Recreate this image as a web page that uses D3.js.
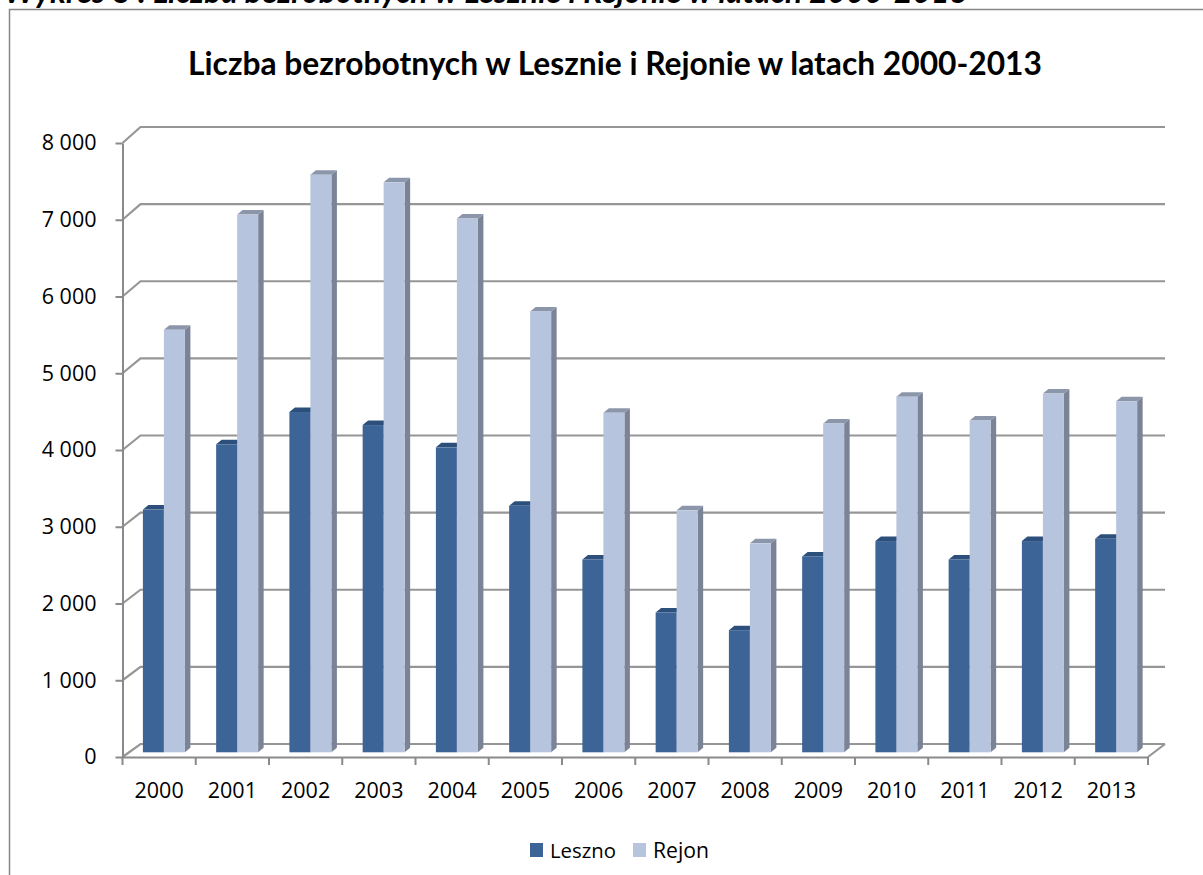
<!DOCTYPE html>
<html><head><meta charset="utf-8">
<script src="https://cdn.jsdelivr.net/npm/d3@7"></script>
<style>body{margin:0;background:#fff}svg{display:block}</style>
</head><body>
<svg id="c" width="1203" height="875"></svg>
<script>
const years = ["2000","2001","2002","2003","2004","2005","2006","2007","2008","2009","2010","2011","2012","2013"];
const leszno = [3160,4010,4430,4260,3970,3210,2510,1820,1590,2550,2750,2510,2750,2780];
const rejon  = [5500,7000,7520,7420,6950,5740,4420,3150,2720,4280,4630,4320,4670,4570];
const seriesNames = ["Leszno","Rejon"];
const yTicks = [0,1000,2000,3000,4000,5000,6000,7000,8000];
const titleText = "Liczba bezrobotnych w Lesznie i Rejonie w latach 2000-2013";
const captionText = "Wykres 8 : Liczba bezrobotnych w Lesznie i Rejonie w latach 2000-2013";

const svg = d3.select("#c");
const colors = {
  Leszno:{front:"#3c6496", side:"#2b4a72", top:"#2d4f7c"},
  Rejon:{front:"#b7c4de", side:"#7b8396", top:"#8c96ab"}
};
const gridCol = "#969696", axisCol = "#8a8a8a";

// scales
const x = d3.scaleBand().domain(years).range([122.5,1148]).padding(0);
const yFront = d3.scaleLinear().domain([0,8000]).range([757,143]);
const yBack  = d3.scaleLinear().domain([0,8000]).range([744,127]);
const yBar   = d3.scaleLinear().domain([0,8000]).range([752.3,137.8]);
const depthX = 18;
const inner = d3.scaleBand().domain(seriesNames).range([20.4, 62.4]).padding(0);
const bdx = 5.5, bdy = 4.5;

function fitText(sel, target){
  const n = sel.node();
  const fs = parseFloat(sel.attr("font-size"));
  const w = n.getComputedTextLength();
  sel.attr("font-size", (fs*target/w).toFixed(2));
}

// caption (cut off at top edge, as in the source image)
const cap = svg.append("text").attr("x",4).attr("y",3)
  .attr("font-family","Lato, 'Open Sans', sans-serif").attr("font-weight","bold").attr("font-style","italic")
  .attr("font-size",24).attr("fill","#000").text(captionText);
fitText(cap, 964);

// frame
svg.append("rect").attr("x",9.5).attr("y",9.5).attr("width",1250).attr("height",1000)
  .attr("fill","none").attr("stroke","#878787").attr("stroke-width",1.5);

// title
const title = svg.append("text").attr("x",615).attr("y",75).attr("text-anchor","middle")
  .attr("font-family","Lato, 'Open Sans', sans-serif").attr("font-weight","bold")
  .attr("font-size",28).attr("fill","#000").text(titleText);
fitText(title, 854);

const x0 = x.range()[0], x1 = x.range()[1];

// side-wall diagonals + back gridlines
const g = svg.append("g");
g.selectAll("path.grid").data(yTicks).join("path").attr("class","grid")
  .attr("d", d => `M${x0},${yFront(d)}L${x0+depthX},${yBack(d)}L${1165},${yBack(d)}`)
  .attr("fill","none").attr("stroke", gridCol).attr("stroke-width",2.2);
g.append("path").attr("d",`M${x1},${yFront(0)}L${1165},${yBack(0)}`)
  .attr("fill","none").attr("stroke",gridCol).attr("stroke-width",2.2);

// y axis
const fmt = d3.formatLocale({decimal:",",thousands:" ",grouping:[3],currency:["",""]}).format(",d");
const yAxis = svg.append("g").attr("transform",`translate(${x0},0)`)
  .call(d3.axisLeft(yFront).tickValues(yTicks).tickFormat(fmt).tickSize(7).tickSizeOuter(0).tickPadding(19));
yAxis.select(".domain").attr("stroke",axisCol).attr("stroke-width",2);
yAxis.selectAll(".tick line").attr("stroke",axisCol).attr("stroke-width",2);
yAxis.selectAll(".tick text").attr("font-family","'Open Sans', sans-serif").attr("font-size",21.5).attr("fill","#000");

// x axis
const xAxis = svg.append("g").attr("transform",`translate(0,${yFront(0)})`)
  .call(d3.axisBottom(x).tickSize(0).tickSizeOuter(0).tickPadding(0));
xAxis.select(".domain").attr("stroke",axisCol).attr("stroke-width",2);
xAxis.selectAll(".tick text").attr("font-family","'Open Sans', sans-serif").attr("font-size",21.5)
  .attr("fill","#000").attr("dy",null).attr("y",41);
const bounds = years.map(d => x(d)).concat([x1]);
xAxis.selectAll("line.bt").data(bounds).join("line").attr("class","bt")
  .attr("x1",d=>d).attr("x2",d=>d).attr("y1",0).attr("y2",8)
  .attr("stroke",axisCol).attr("stroke-width",2);

// bars
const rows = years.map((yr,i)=>({year:yr, Leszno:leszno[i], Rejon:rejon[i]}));
const bars = svg.append("g");
rows.forEach(r=>{
  seriesNames.forEach(s=>{
    const bx0 = x(r.year)+inner(s), bx1 = bx0+inner.bandwidth();
    const yb = yBar(0), yt = yBar(r[s]);
    const c = colors[s];
    const gb = bars.append("g");
    gb.append("path").attr("d",`M${bx1},${yb}L${bx1+bdx},${yb-bdy}L${bx1+bdx},${yt-bdy}L${bx1},${yt}Z`).attr("fill",c.side);
    gb.append("path").attr("d",`M${bx0},${yt}L${bx0+bdx},${yt-bdy}L${bx1+bdx},${yt-bdy}L${bx1},${yt}Z`).attr("fill",c.top);
    gb.append("rect").attr("x",bx0).attr("y",yt).attr("width",bx1-bx0).attr("height",yb-yt).attr("fill",c.front);
  });
});

// legend
const leg = svg.append("g");
const legItems = [{name:"Leszno",sx:530,tx:550,tw:66},{name:"Rejon",sx:633,tx:653,tw:56}];
legItems.forEach(it=>{
  leg.append("rect").attr("x",it.sx).attr("y",843).attr("width",13).attr("height",14).attr("fill",colors[it.name].front);
  const t = leg.append("text").attr("x",it.tx).attr("y",858).attr("font-family","'Open Sans', sans-serif")
    .attr("font-size",20).attr("fill","#000").text(it.name);
  fitText(t, it.tw);
});
</script>
</body></html>
